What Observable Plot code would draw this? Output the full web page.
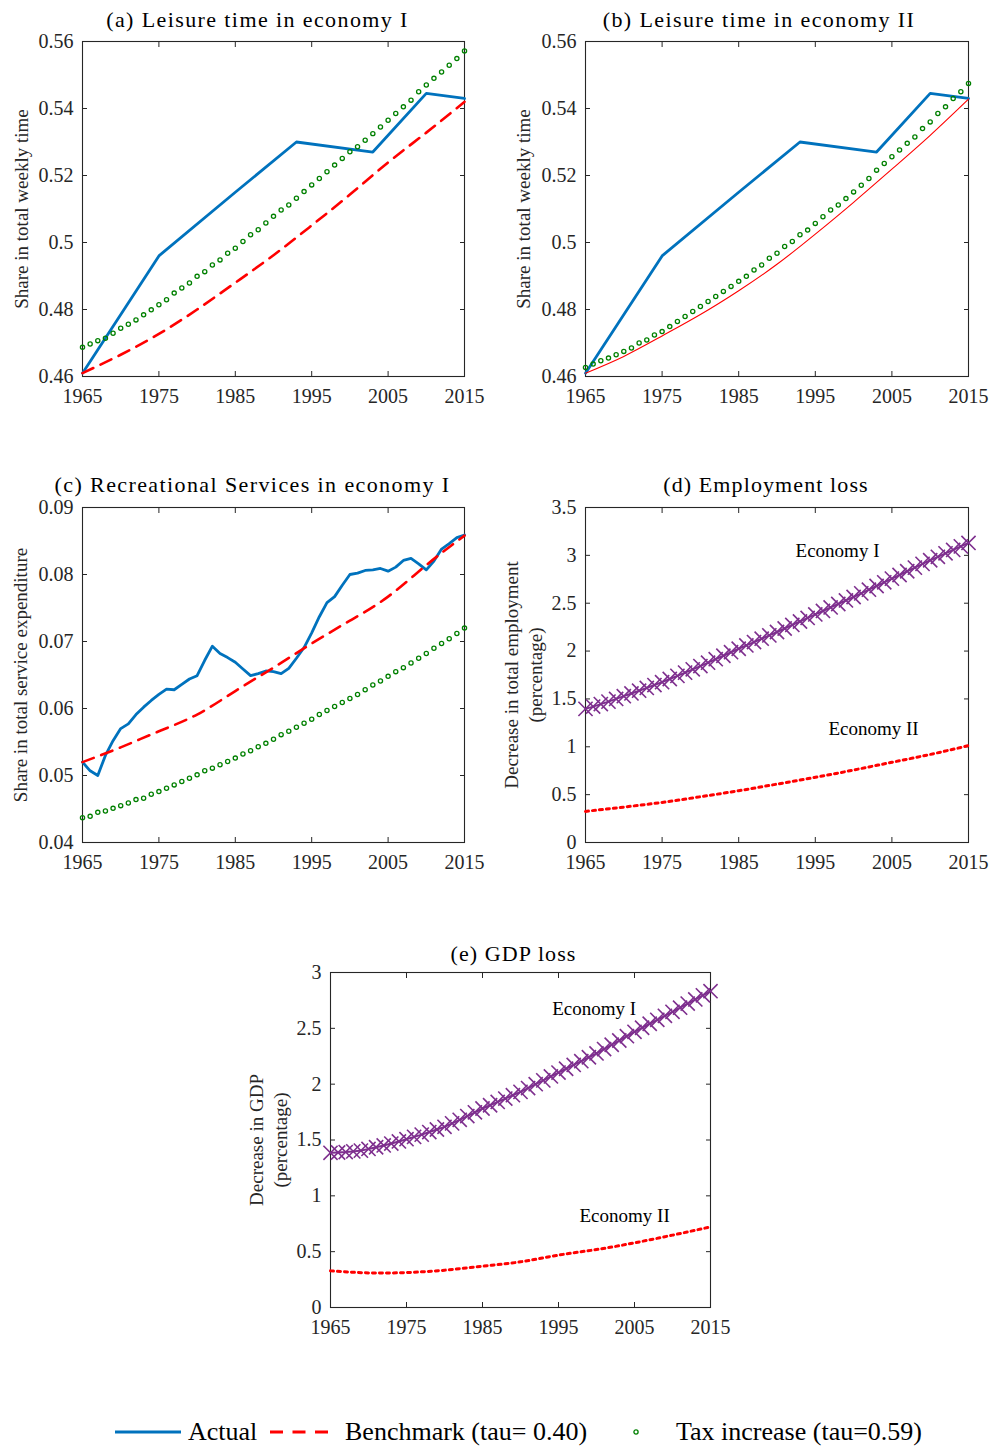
<!DOCTYPE html>
<html>
<head>
<meta charset="utf-8">
<script src="https://cdn.jsdelivr.net/npm/d3@7"></script>
<script src="https://cdn.jsdelivr.net/npm/@observablehq/plot@0.6"></script>
<style>
  html, body { margin: 0; padding: 0; background: #ffffff; }
  #root { position: relative; width: 997px; height: 1448px; background: #ffffff; font-family: "Liberation Serif", "Times New Roman", serif; color: #262626; }
  .panel { position: absolute; }
  .panel svg text { font-family: "Liberation Serif", "Times New Roman", serif; }
  .leg { position: absolute; transform: translateY(-50%); font-size: 26px; white-space: nowrap; line-height: 1; color: #000; }
</style>
</head>
<body>
<div id="root"></div>
<script>
// ---------------- DATA ----------------
const yearsAnnual = [1965,1966,1967,1968,1969,1970,1971,1972,1973,1974,1975,1976,1977,1978,1979,1980,1981,1982,1983,1984,1985,1986,1987,1988,1989,1990,1991,1992,1993,1994,1995,1996,1997,1998,1999,2000,2001,2002,2003,2004,2005,2006,2007,2008,2009,2010,2011,2012,2013,2014,2015];
const years5 = [1965,1970,1975,1980,1985,1990,1995,2000,2005,2010,2015];
const actualYears = [1965,1975,1985,1993,2003,2010,2015];
const xTicks = [1965,1975,1985,1995,2005,2015];

// Leisure time share (actual, time-use surveys)
const leisureActual = [0.461,0.496,0.515,0.530,0.527,0.5445,0.543];
// (a) economy I
const leisureBenchI = [0.461,0.4665,0.4727,0.4800,0.4880,0.4962,0.5051,0.5143,0.5239,0.5328,0.5420];
const leisureTaxI = [0.4687,0.4697,0.4707,0.4714,0.4729,0.4744,0.4756,0.4769,0.4784,0.4799,0.4814,0.4829,0.4849,0.4864,0.4879,0.4899,0.4913,0.4933,0.4948,0.4968,0.4983,0.5003,0.5023,0.5038,0.5058,0.5078,0.5097,0.5112,0.5132,0.5152,0.5172,0.5191,0.5211,0.5231,0.5251,0.5271,0.5286,0.5305,0.5325,0.5345,0.5365,0.5385,0.5405,0.5425,0.5450,0.5470,0.5490,0.5509,0.5529,0.5549,0.5572];
// (b) economy II
const leisureBenchII = [0.461,0.466,0.4721,0.4785,0.4856,0.4935,0.5025,0.5120,0.5219,0.5320,0.5428];
const leisureTaxII = [0.4627,0.4637,0.4647,0.4655,0.4665,0.4675,0.4685,0.4700,0.4709,0.4724,0.4734,0.4749,0.4764,0.4779,0.4794,0.4809,0.4824,0.4839,0.4854,0.4869,0.4884,0.4899,0.4918,0.4933,0.4953,0.4968,0.4988,0.5003,0.5023,0.5037,0.5057,0.5077,0.5097,0.5112,0.5131,0.5151,0.5171,0.5191,0.5216,0.5236,0.5256,0.5276,0.5296,0.5315,0.5340,0.5360,0.5385,0.5405,0.5430,0.5450,0.5475];
// (c) recreational services share
const recActual = [0.0520,0.0507,0.0500,0.0530,0.0552,0.0570,0.0577,0.0591,0.0602,0.0612,0.0621,0.0629,0.0628,0.0636,0.0644,0.0649,0.0672,0.0693,0.0682,0.0676,0.0669,0.0659,0.0649,0.0652,0.0656,0.0655,0.0652,0.0660,0.0675,0.0691,0.0713,0.0737,0.0758,0.0767,0.0784,0.0800,0.0802,0.0806,0.0807,0.0809,0.0805,0.0811,0.0821,0.0824,0.0816,0.0807,0.0820,0.0838,0.0846,0.0855,0.0859];
const recBench = [0.0520,0.0542,0.0566,0.0591,0.0626,0.0661,0.0697,0.0731,0.0767,0.0814,0.0858];
const recTax = [0.0437,0.0439,0.0445,0.0447,0.0451,0.0455,0.0459,0.0464,0.0466,0.0472,0.0476,0.0481,0.0486,0.0491,0.0496,0.0501,0.0507,0.0511,0.0516,0.0521,0.0526,0.0532,0.0537,0.0543,0.0548,0.0554,0.0561,0.0566,0.0572,0.0578,0.0584,0.0591,0.0597,0.0603,0.0609,0.0615,0.0621,0.0628,0.0635,0.0641,0.0648,0.0655,0.0661,0.0668,0.0675,0.0682,0.0690,0.0697,0.0704,0.0712,0.0720];
// (d) employment loss (%)
const empLossI = [1.396,1.420,1.446,1.472,1.500,1.529,1.557,1.586,1.615,1.645,1.675,1.708,1.741,1.775,1.809,1.843,1.879,1.915,1.951,1.988,2.024,2.059,2.094,2.129,2.164,2.199,2.236,2.273,2.309,2.346,2.383,2.419,2.456,2.492,2.529,2.565,2.603,2.641,2.680,2.718,2.757,2.795,2.834,2.872,2.911,2.949,2.985,3.021,3.057,3.094,3.130];
const empLossII = [0.325,0.370,0.419,0.478,0.541,0.610,0.681,0.757,0.838,0.920,1.012];
// (e) GDP loss (%)
const gdpLossI = [1.385,1.388,1.392,1.398,1.405,1.420,1.435,1.451,1.468,1.487,1.507,1.528,1.548,1.571,1.594,1.618,1.649,1.681,1.714,1.748,1.782,1.811,1.841,1.871,1.901,1.931,1.965,2.000,2.034,2.069,2.104,2.138,2.172,2.206,2.241,2.275,2.314,2.353,2.391,2.430,2.469,2.505,2.541,2.576,2.612,2.648,2.685,2.722,2.759,2.796,2.833];
const gdpLossII = [0.328,0.310,0.313,0.334,0.370,0.409,0.469,0.519,0.579,0.648,0.722];

// tick values
const yTicksLeisure = [0.46,0.48,0.5,0.52,0.54,0.56];
const yTicksRec = [0.04,0.05,0.06,0.07,0.08,0.09];
const yTicksEmp = [0,0.5,1,1.5,2,2.5,3,3.5];
const yTicksGdp = [0,0.5,1,1.5,2,2.5,3];

// ---------------- STYLE ----------------
const FONT = '"Liberation Serif", "Times New Roman", serif';
const C_BLUE = "#0072BD", C_RED = "#FF0000", C_GREEN = "#008000", C_PURPLE = "#7E2F8E", C_AX = "#262626";

function axesMarks(yTicks) {
  return [
    Plot.frame({stroke: C_AX, strokeWidth: 1.1}),
    Plot.axisX(xTicks, {anchor: "bottom", tickSize: -5, tickPadding: 17, tickFormat: d => String(d), label: null, fontSize: 20, fontFamily: FONT, stroke: C_AX, fill: C_AX}),
    Plot.axisX(xTicks, {anchor: "top", tickSize: -5, tickFormat: () => "", label: null, stroke: C_AX}),
    Plot.axisY(yTicks, {anchor: "left", tickSize: -5, tickPadding: 14, tickFormat: d => String(d), label: null, fontSize: 20, fontFamily: FONT, stroke: C_AX, fill: C_AX}),
    Plot.axisY(yTicks, {anchor: "right", tickSize: -5, tickFormat: () => "", label: null, stroke: C_AX})
  ];
}

function panel(cfg) {
  const fig = Plot.plot({
    width: cfg.width, height: cfg.height,
    marginLeft: cfg.ml, marginRight: cfg.mr, marginTop: cfg.mt, marginBottom: cfg.mb,
    x: {domain: [1965, 2015]},
    y: {domain: cfg.yDomain},
    style: {fontFamily: FONT, fontSize: "20px", color: C_AX, background: "transparent", overflow: "visible"},
    marks: [
      ...axesMarks(cfg.yTicks),
      ...cfg.marks,
      Plot.text([cfg.title], {text: d => d, frameAnchor: "top", textAnchor: "middle", lineAnchor: "middle", dy: cfg.titleDy, dx: cfg.titleDx, fontSize: 22, fontFamily: FONT, fill: "#000"}),
      Plot.text([cfg.ylabel], {text: d => d, frameAnchor: "left", textAnchor: "middle", rotate: -90, lineAnchor: "middle", dx: cfg.ylabelDx, fontSize: 19, lineHeight: 1.26, fontFamily: FONT, fill: C_AX})
    ]
  });
  // widen title letter spacing like the original rendering
  fig.querySelectorAll("text").forEach(t => {
    if (t.textContent === cfg.title) t.setAttribute("letter-spacing", cfg.titleSpacing + "px");
  });
  const wrap = document.createElement("div");
  wrap.className = "panel";
  wrap.style.left = cfg.left + "px";
  wrap.style.top = cfg.top + "px";
  wrap.appendChild(fig);
  document.getElementById("root").appendChild(wrap);
}

const actualLine = () => Plot.line(leisureActual, {x: actualYears, y: d => d, stroke: C_BLUE, strokeWidth: 2.8});
const taxDots = (vals) => Plot.dot(vals, {x: yearsAnnual, y: d => d, r: 2.1, stroke: C_GREEN, strokeWidth: 1.3, fill: "none"});
const econIMarks = (vals) => [
  Plot.line(vals, {x: yearsAnnual, y: d => d, stroke: C_PURPLE, strokeWidth: 2}),
  Plot.dot(vals, {x: yearsAnnual, y: d => d, symbol: "times", r: 6.5, stroke: C_PURPLE, strokeWidth: 1.6})
];
const econIILine = (vals) => Plot.line(vals, {x: years5, y: d => d, curve: "natural", stroke: C_RED, strokeWidth: 3, strokeDasharray: "3,4"});

// (a)
panel({
  left: 0, top: 0, width: 497, height: 420, ml: 82, mr: 33, mt: 41, mb: 44,
  yDomain: [0.46, 0.56], yTicks: yTicksLeisure,
  title: "(a) Leisure time in economy I", titleDx: -16, titleDy: -22, titleSpacing: 1.4,
  ylabel: "Share in total weekly time", ylabelDx: -62,
  marks: [
    actualLine(),
    Plot.line(leisureBenchI, {x: years5, y: d => d, curve: "natural", stroke: C_RED, strokeWidth: 2.6, strokeDasharray: "12,8"}),
    taxDots(leisureTaxI)
  ]
});
// (b)
panel({
  left: 497, top: 0, width: 500, height: 420, ml: 88, mr: 29, mt: 41, mb: 44,
  yDomain: [0.46, 0.56], yTicks: yTicksLeisure,
  title: "(b) Leisure time in economy II", titleDx: -18, titleDy: -22, titleSpacing: 1.4,
  ylabel: "Share in total weekly time", ylabelDx: -63,
  marks: [
    actualLine(),
    Plot.line(leisureBenchII, {x: years5, y: d => d, curve: "natural", stroke: C_RED, strokeWidth: 1.1}),
    taxDots(leisureTaxII)
  ]
});
// (c)
panel({
  left: 0, top: 460, width: 497, height: 420, ml: 82, mr: 33, mt: 47, mb: 38,
  yDomain: [0.04, 0.09], yTicks: yTicksRec,
  title: "(c) Recreational Services in economy I", titleDx: -21, titleDy: -23, titleSpacing: 1.4,
  ylabel: "Share in total service expenditure", ylabelDx: -63,
  marks: [
    Plot.line(recActual, {x: yearsAnnual, y: d => d, stroke: C_BLUE, strokeWidth: 2.8}),
    Plot.line(recBench, {x: years5, y: d => d, curve: "natural", stroke: C_RED, strokeWidth: 2.6, strokeDasharray: "12,8"}),
    taxDots(recTax)
  ]
});
// (d)
panel({
  left: 497, top: 460, width: 500, height: 420, ml: 88, mr: 29, mt: 47, mb: 38,
  yDomain: [0, 3.5], yTicks: yTicksEmp,
  title: "(d) Employment loss", titleDx: -11, titleDy: -23, titleSpacing: 1.1,
  ylabel: "Decrease in total employment\n(percentage)", ylabelDx: -63,
  marks: [
    ...econIMarks(empLossI),
    econIILine(empLossII),
    Plot.text(["Economy I"], {text: d => d, x: 1997.9, y: 3.05, fontSize: 19, fontFamily: FONT, fill: "#000"}),
    Plot.text(["Economy II"], {text: d => d, x: 2002.6, y: 1.19, fontSize: 19, fontFamily: FONT, fill: "#000"})
  ]
});
// (e)
panel({
  left: 230, top: 930, width: 520, height: 420, ml: 100, mr: 40, mt: 42, mb: 43,
  yDomain: [0, 3], yTicks: yTicksGdp,
  title: "(e) GDP loss", titleDx: -7, titleDy: -19, titleSpacing: 1.1,
  ylabel: "Decrease in GDP\n(percentage)", ylabelDx: -63.5,
  marks: [
    ...econIMarks(gdpLossI),
    econIILine(gdpLossII),
    Plot.text(["Economy I"], {text: d => d, x: 1999.7, y: 2.67, fontSize: 19, fontFamily: FONT, fill: "#000"}),
    Plot.text(["Economy II"], {text: d => d, x: 2003.7, y: 0.82, fontSize: 19, fontFamily: FONT, fill: "#000"})
  ]
});

// ---------------- LEGEND ----------------
const legendItems = [
  {label: "Actual", swatch: `<svg width="68" height="10"><line x1="1" y1="5" x2="67" y2="5" stroke="${C_BLUE}" stroke-width="3"/></svg>`, sx: 114, tx: 188},
  {label: "Benchmark (tau= 0.40)", swatch: `<svg width="68" height="10"><line x1="1" y1="5" x2="67" y2="5" stroke="${C_RED}" stroke-width="3" stroke-dasharray="13,9.5"/></svg>`, sx: 269, tx: 345},
  {label: "Tax increase (tau=0.59)", swatch: `<svg width="10" height="10"><circle cx="5" cy="5" r="2.1" fill="none" stroke="${C_GREEN}" stroke-width="1.3"/></svg>`, sx: 631, tx: 676}
];
const root = document.getElementById("root");
for (const it of legendItems) {
  const s = document.createElement("div");
  s.className = "leg"; s.style.left = it.sx + "px"; s.style.top = "1432px"; s.style.lineHeight = "0";
  s.innerHTML = it.swatch;
  root.appendChild(s);
  const t = document.createElement("div");
  t.className = "leg"; t.style.left = it.tx + "px"; t.style.top = "1432px";
  t.textContent = it.label;
  root.appendChild(t);
}
</script>
</body>
</html>
